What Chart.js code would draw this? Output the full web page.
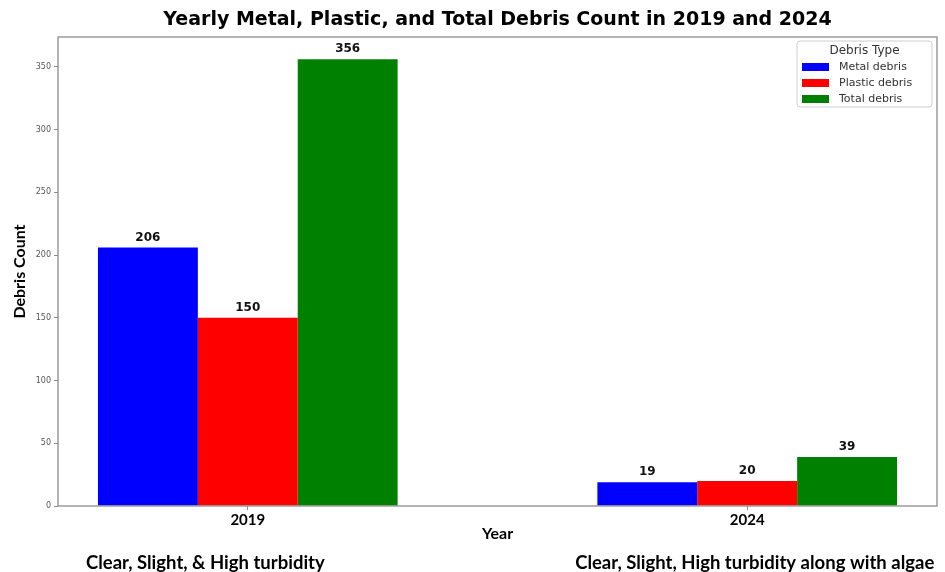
<!DOCTYPE html>
<html>
<head>
<meta charset="utf-8">
<title>Debris Count 2019 vs 2024</title>
<script src="https://cdn.jsdelivr.net/npm/chart.js@4.4.1/dist/chart.umd.min.js"></script>
<style>
    html, body { margin: 0; padding: 0; background: #fff; }
    #wrap { width: 945px; height: 572px; }
</style>
</head>
<body>
<div id="wrap"><canvas id="debrisChart"></canvas></div>
<script>
// Data
const years = ["2019", "2024"];
const conditions = ["Clear, Slight, & High turbidity", "Clear, Slight, High turbidity along with algae"];
const seriesNames = ["Metal debris", "Plastic debris", "Total debris"];
const metalDebris = [206, 19];
const plasticDebris = [150, 20];
const totalDebris = [356, 39];
const yTicks = [0, 50, 100, 150, 200, 250, 300, 350];

const chartTitle = "Yearly Metal, Plastic, and Total Debris Count in 2019 and 2024";
const legendTitle = "Debris Type";

const toPoints = arr => arr.map((v, i) => ({ x: i, y: v }));

// Frame, value labels, legend box, title and condition notes
const decorations = {
    id: "decorations",
    afterDraw(chart) {
        const { ctx, chartArea: a, scales: { x } } = chart;
        ctx.save();

        // axes box
        ctx.strokeStyle = "#8c8c8c";
        ctx.lineWidth = 1.3;
        ctx.strokeRect(a.left, a.top, a.right - a.left, a.bottom - a.top);

        // value on top of each bar
        ctx.fillStyle = "#111";
        ctx.font = "bold 12px 'DejaVu Sans'";
        ctx.textAlign = "center";
        ctx.textBaseline = "bottom";
        chart.data.datasets.forEach((ds, di) => {
            chart.getDatasetMeta(di).data.forEach((bar, i) => {
                ctx.fillText(ds.data[i].y, bar.x, bar.y - 4);
            });
        });

        // legend
        const lx = 797, ly = 41, lw = 135, lh = 66;
        ctx.fillStyle = "rgba(255,255,255,0.9)";
        ctx.strokeStyle = "#cfcfcf";
        ctx.lineWidth = 1;
        ctx.beginPath();
        ctx.roundRect(lx, ly, lw, lh, 3);
        ctx.fill();
        ctx.stroke();
        ctx.fillStyle = "#333";
        ctx.font = "12px 'DejaVu Sans'";
        ctx.textBaseline = "middle";
        ctx.fillText(legendTitle, lx + lw / 2, ly + 10);
        ctx.font = "11px 'DejaVu Sans'";
        ctx.textAlign = "left";
        chart.data.datasets.forEach((ds, di) => {
            const yy = ly + 26 + di * 16;
            ctx.fillStyle = ds.backgroundColor;
            ctx.fillRect(lx + 5, yy - 4, 27, 8);
            ctx.fillStyle = "#333";
            ctx.fillText(ds.label, lx + 42, yy);
        });

        // title
        ctx.fillStyle = "#000";
        ctx.font = "bold 19px 'DejaVu Sans'";
        ctx.textAlign = "center";
        ctx.fillText(chartTitle, (a.left + a.right) / 2, 20);

        // water condition notes under each year
        ctx.font = "bold 18.5px Lato";
        const noteOffsets = [-0.085, 1.015];
        conditions.forEach((c, i) => {
            ctx.fillText(c, x.getPixelForValue(noteOffsets[i]), 563);
        });

        ctx.restore();
    }
};

new Chart(document.getElementById("debrisChart").getContext("2d"), {
    type: "bar",
    data: {
        datasets: [
            { label: seriesNames[0], data: toPoints(metalDebris), backgroundColor: "#0000ff" },
            { label: seriesNames[1], data: toPoints(plasticDebris), backgroundColor: "#ff0000" },
            { label: seriesNames[2], data: toPoints(totalDebris), backgroundColor: "#008000" }
        ]
    },
    options: {
        responsive: true,
        maintainAspectRatio: false,
        animation: false,
        layout: { padding: { top: 37, right: 8, left: 0, bottom: 30 } },
        datasets: {
            bar: { categoryPercentage: 0.6, barPercentage: 1.0, borderWidth: 0 }
        },
        plugins: {
            legend: { display: false },
            tooltip: { enabled: false }
        },
        scales: {
            x: {
                type: "linear",
                min: -0.38,
                max: 1.38,
                offset: false,
                afterBuildTicks: scale => { scale.ticks = years.map((_, i) => ({ value: i })); },
                grid: { drawOnChartArea: false, offset: false, tickLength: 4, color: "#8c8c8c" },
                border: { display: false },
                ticks: {
                    callback: v => years[v],
                    color: "#000",
                    padding: 3,
                    maxRotation: 0,
                    font: { family: "Lato", weight: "bold", size: 15, lineHeight: 1 }
                },
                title: {
                    display: true,
                    text: "Year",
                    color: "#000",
                    padding: { top: -5, bottom: 0 },
                    font: { family: "Lato", weight: "bold", size: 16, lineHeight: 1 }
                }
            },
            y: {
                min: 0,
                max: 373.8,
                afterBuildTicks: scale => { scale.ticks = yTicks.map(v => ({ value: v })); },
                afterFit: scale => { scale.width = 58; },
                grid: { drawOnChartArea: false, tickLength: 4, color: "#8c8c8c" },
                border: { display: false },
                ticks: {
                    color: "#555",
                    padding: 3,
                    font: { family: "DejaVu Sans", size: 8 }
                },
                title: {
                    display: true,
                    text: "Debris Count",
                    color: "#000",
                    padding: { top: 10, bottom: 0 },
                    font: { family: "Lato", weight: "bold", size: 16 }
                }
            }
        }
    },
    plugins: [decorations]
});
</script>
</body>
</html>
